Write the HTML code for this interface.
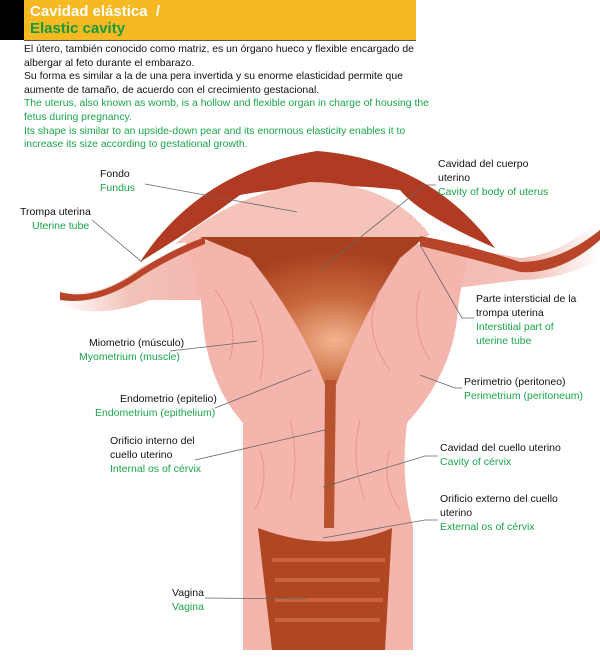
<!DOCTYPE html>
<html><head><meta charset="utf-8"><style>
html,body{margin:0;padding:0;background:#fff;}
body{width:600px;height:658px;position:relative;overflow:hidden;font-family:"Liberation Sans",sans-serif;}
.hdr{position:absolute;left:0;top:0;width:24px;height:40px;background:#000;}
.hdr2{position:absolute;left:24px;top:0;width:392px;height:40px;background:#f7b921;border-bottom:1px solid #555;}
.t1{position:absolute;left:30px;top:3px;color:#fff;font-size:15px;font-weight:bold;}
.t2{position:absolute;left:30px;top:20px;color:#159a3e;font-size:15px;font-weight:bold;}
.intro{position:absolute;left:24px;top:43px;font-size:10.4px;line-height:13.6px;color:#111;}
.g{color:#1aa54a;}
svg{position:absolute;left:0;top:0;}
svg text{font-family:"Liberation Sans",sans-serif;font-size:10.5px;fill:#111;}
svg text.g{fill:#1aa54a;}
</style></head><body>
<div class="hdr"></div><div class="hdr2"></div>
<div class="t1">Cavidad elástica &nbsp;/</div>
<div class="t2">Elastic cavity</div>
<div class="intro">El útero, también conocido como matriz, es un órgano hueco y flexible encargado de<br>albergar al feto durante el embarazo.<br>Su forma es similar a la de una pera invertida y su enorme elasticidad permite que<br>aumente de tamaño, de acuerdo con el crecimiento gestacional.<br><span class="g">The uterus, also known as womb, is a hollow and flexible organ in charge of housing the<br>fetus during pregnancy.<br>Its shape is similar to an upside-down pear and its enormous elasticity enables it to<br>increase its size according to gestational growth.</span></div>
<svg width="600" height="658" viewBox="0 0 600 658">
<defs>
<linearGradient id="lf" x1="0" x2="1"><stop offset="0" stop-color="#fff"/><stop offset="0.5" stop-color="#f2c2b8"/><stop offset="1" stop-color="#f4b8b0"/></linearGradient>
<linearGradient id="rf" x1="0" x2="1"><stop offset="0" stop-color="#f4b8b0"/><stop offset="0.6" stop-color="#f2c2b8"/><stop offset="1" stop-color="#fff"/></linearGradient>
<radialGradient id="cav" cx="0.6" cy="0.7" r="0.6"><stop offset="0" stop-color="#f2b48f"/><stop offset="0.5" stop-color="#c8683c"/><stop offset="1" stop-color="#a8401f"/></radialGradient>
</defs>
<!-- mesentery -->
<path d="M60 290 Q100 300 140 268 L200 238 L200 300 L150 300 Q100 320 60 305Z" fill="url(#lf)"/>
<path d="M420 240 L520 258 Q560 255 600 220 L600 260 Q560 280 520 280 L440 290Z" fill="url(#rf)"/>
<!-- body -->
<path d="M185 240 Q200 290 202 310 Q205 380 243 423 L243 650 L413 650 L413 527 Q400 480 407 423 Q455 370 458 307 Q462 280 470 245 Z" fill="#f4b5ad"/>
<!-- serosa cap -->
<path d="M140 262 Q200 170 317 151 Q430 160 495 248 Q420 215 400 190 Q320 180 240 195 Q200 225 140 262Z" fill="#b03a22"/>
<path d="M175 244 Q230 195 310 182 Q390 182 430 235 L420 240 L200 240Z" fill="#f6c3ba"/>
<!-- tubes -->
<path d="M60 292 Q95 302 140 270 Q170 250 205 237 L205 244 Q170 258 142 276 Q100 306 60 300Z" fill="#b8452a"/>
<path d="M420 236 Q470 245 520 262 Q560 262 600 230 L600 240 Q560 275 520 272 Q470 258 420 246Z" fill="#b8452a"/>
<!-- cavity -->
<path d="M200 237 L425 237 L400 258 Q360 320 336 385 L325 385 Q300 320 250 258Z" fill="url(#cav)"/>
<path d="M325 380 L336 380 L334 528 L324 528Z" fill="#b8532f"/>
<!-- vagina -->
<path d="M258 528 Q330 555 392 528 L385 650 L272 650Z" fill="#b04722"/>
<path d="M272 560 L385 560 M275 580 L380 580 M275 600 L383 600 M275 620 L380 620" stroke="#c9643c" stroke-width="4"/>
<!-- vessels -->
<g stroke="#e7948a" stroke-width="1" fill="none">
<path d="M215 290 Q240 320 230 360 M250 300 Q270 340 260 380 M380 290 Q360 330 390 370 M420 290 Q410 330 430 360 M260 450 Q270 480 255 510 M390 450 Q380 480 400 510 M290 420 Q300 460 290 500 M360 420 Q350 460 365 500"/>
</g>
<!-- leader lines -->
<g stroke="#666" stroke-width="0.8" fill="none">
<path d="M145 184 L297 212"/><path d="M92 220 L142 262"/>
<path d="M436 185 L425 185 L320 270"/><path d="M420 245 L462 318 L474 318"/>
<path d="M170 351 L257 341"/><path d="M215 408 L311 370"/>
<path d="M195 460 L325 430"/><path d="M420 375 L455 388 L462 388"/>
<path d="M438 456 L425 456 L323 487"/><path d="M438 520 L425 520 L323 538"/>
<path d="M205 598 L306 599"/>
</g>
<text x="100" y="177">Fondo</text><text class="g" x="100" y="191">Fundus</text>
<text x="20" y="215">Trompa uterina</text><text class="g" x="32" y="229">Uterine tube</text>
<text x="438" y="167">Cavidad del cuerpo</text><text x="438" y="181">uterino</text><text class="g" x="438" y="195">Cavity of body of uterus</text>
<text x="476" y="302">Parte intersticial de la</text><text x="476" y="316">trompa uterina</text><text class="g" x="476" y="330">Interstitial part of</text><text class="g" x="476" y="344">uterine tube</text>
<text x="89" y="346">Miometrio (músculo)</text><text class="g" x="79" y="360">Myometrium (muscle)</text>
<text x="120" y="402">Endometrio (epitelio)</text><text class="g" x="95" y="416">Endometrium (epithelium)</text>
<text x="110" y="444">Orificio interno del</text><text x="110" y="458">cuello uterino</text><text class="g" x="110" y="472">Internal os of cérvix</text>
<text x="464" y="385">Perimetrio (peritoneo)</text><text class="g" x="464" y="399">Perimetrium (peritoneum)</text>
<text x="440" y="451">Cavidad del cuello uterino</text><text class="g" x="440" y="465">Cavity of cérvix</text>
<text x="440" y="502">Orificio externo del cuello</text><text x="440" y="516">uterino</text><text class="g" x="440" y="530">External os of cérvix</text>
<text x="172" y="596">Vagina</text><text class="g" x="172" y="610">Vagina</text>
</svg>
</body></html>
